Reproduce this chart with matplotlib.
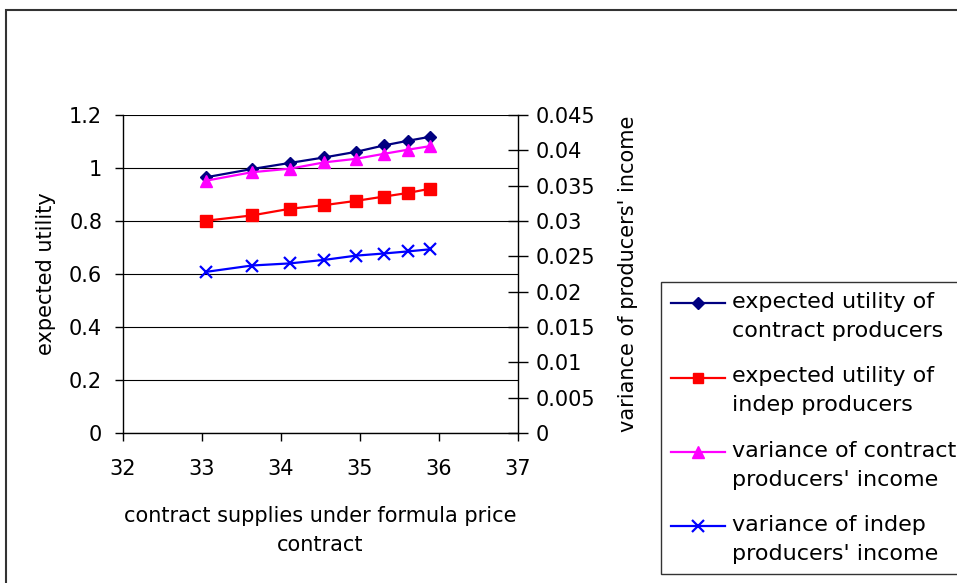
import numpy as np
import matplotlib
matplotlib.use('Agg')
from matplotlib import pyplot
import matplotlib.ticker as ticker
from matplotlib.patches import Rectangle
from matplotlib.legend_handler import HandlerLine2D

pyplot.rcParams['font.family'] = ['DejaVu Sans']

# contract supplies under formula price contract
supplies = [33.05, 33.63, 34.11, 34.55, 34.95, 35.30, 35.61, 35.89]

# expected utility (left axis)
eu_contract = [0.965, 0.996, 1.019, 1.040, 1.061, 1.085, 1.103, 1.118]
eu_indep = [0.801, 0.821, 0.846, 0.860, 0.876, 0.892, 0.906, 0.922]

# variance of income (right axis)
var_contract = [0.0357, 0.0369, 0.0374, 0.0383, 0.0388, 0.0395, 0.0401, 0.0406]
var_indep = [0.0228, 0.0237, 0.0240, 0.0245, 0.0251, 0.0254, 0.0257, 0.0260]

labels = ['expected utility of\ncontract producers',
          'expected utility of\nindep producers',
          'variance of contract\nproducers\' income',
          'variance of indep\nproducers\' income']

FS = 15
LEG_FS = 16


class FirstLineHandler(HandlerLine2D):
    # put the legend line next to the first text line of the entry
    def create_artists(self, legend, orig_handle, xdescent, ydescent,
                       width, height, fontsize, trans):
        arts = super().create_artists(legend, orig_handle, xdescent, ydescent,
                                      width, height, fontsize, trans)
        for a in arts:
            a.set_ydata(np.asarray(a.get_ydata(), dtype=float) + 0.6 * fontsize)
        return arts


fig = pyplot.figure(figsize=(9.57, 5.83), dpi=100)
ax = fig.add_axes([123 / 957, 1 - 433 / 583, 395 / 957, 318 / 583])
ax2 = ax.twinx()

ax.set_xlim(32, 37)
ax.set_ylim(0, 1.2)
ax2.set_ylim(0, 0.045)

ax.xaxis.set_major_locator(ticker.MultipleLocator(1))
ax.yaxis.set_major_locator(ticker.MultipleLocator(0.2))
ax2.yaxis.set_major_locator(ticker.MultipleLocator(0.005))
ax.yaxis.set_major_formatter(ticker.FuncFormatter(lambda v, p: '%g' % round(v, 3)))
ax2.yaxis.set_major_formatter(ticker.FuncFormatter(lambda v, p: '%g' % round(v, 4)))

ax.grid(axis='y', color='black', linewidth=0.8)
ax.set_axisbelow(True)

for s in ['top', 'right']:
    ax.spines[s].set_visible(False)
for s in ['top', 'left', 'bottom']:
    ax2.spines[s].set_visible(False)
for sp in [ax.spines['left'], ax.spines['bottom'], ax2.spines['right']]:
    sp.set_color('black')
    sp.set_linewidth(1.0)

ax.tick_params(axis='y', direction='out', length=6, width=1, pad=9, labelsize=FS)
ax.tick_params(axis='x', direction='out', length=6, width=1, pad=13, labelsize=FS)
ax2.tick_params(axis='y', direction='inout', length=14, width=1, pad=6, labelsize=FS)

l1, = ax.plot(supplies, eu_contract, color='#000080', linewidth=1.6,
              marker='D', markersize=6, label=labels[0])
l2, = ax.plot(supplies, eu_indep, color='#FF0000', linewidth=1.6,
              marker='s', markersize=8, label=labels[1])
l3, = ax2.plot(supplies, var_contract, color='#FF00FF', linewidth=1.6,
               marker='^', markersize=9, label=labels[2])
l4, = ax2.plot(supplies, var_indep, color='#0000FF', linewidth=1.6,
               marker='x', markersize=9, markeredgewidth=1.6, label=labels[3])

ax.set_ylabel('expected utility', fontsize=FS, labelpad=9)
ax2.set_ylabel('variance of producers\' income', fontsize=FS, labelpad=16)
ax.set_xlabel('contract supplies under formula price\ncontract', fontsize=FS,
              labelpad=19, linespacing=1.6)

handles = [l1, l2, l3, l4]
leg = fig.legend(handles, labels, loc='upper left',
                 bbox_to_anchor=(661 / 957, 1 - 282 / 583),
                 bbox_transform=fig.transFigure, borderaxespad=0,
                 fontsize=LEG_FS, fancybox=False, framealpha=1, edgecolor='#333333',
                 handlelength=2.45, handletextpad=0.3, borderpad=0.45,
                 labelspacing=1.15, markerscale=0.95,
                 handler_map={h: FirstLineHandler() for h in handles})
leg.get_frame().set_linewidth(1.0)
for t in leg.get_texts():
    t.set_linespacing(1.55)

# outer chart frame
fig.add_artist(Rectangle((6 / 957, -0.2), 1.2, 1.2 - 10 / 583,
                         transform=fig.transFigure, fill=False,
                         edgecolor='#333333', linewidth=1.5))

fig.savefig('out.png', dpi=100)
